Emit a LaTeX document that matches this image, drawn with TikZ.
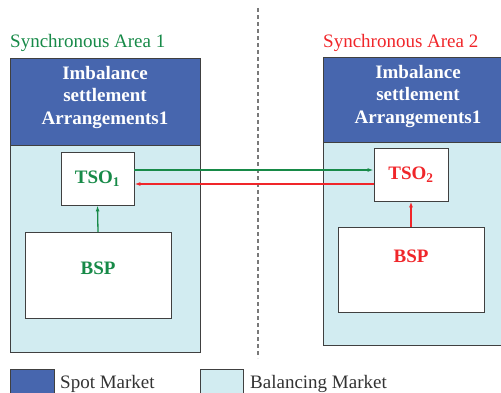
\documentclass[tikz,border=0pt]{standalone}
\usepackage{fontspec}
\setmainfont{Liberation Serif}
\usetikzlibrary{arrows.meta}
\definecolor{spotblue}{HTML}{4766AE}
\definecolor{balblue}{HTML}{D2ECF1}
\definecolor{sagreen}{HTML}{178A48}
\definecolor{sared}{HTML}{F0262A}
\definecolor{frame}{HTML}{404040}
\tikzset{
  areabox/.style={draw=frame, line width=0.9pt, fill=balblue},
  spotbox/.style={draw=frame, line width=0.9pt, fill=spotblue},
  whitebox/.style={draw=frame, line width=0.9pt, fill=white, inner sep=0pt},
  spottext/.style={text=white, font=\bfseries\fontsize{19}{22.5}\selectfont, align=center},
  boxtext/.style={font=\bfseries\fontsize{19}{22}\selectfont},
  title/.style={font=\fontsize{19}{22}\selectfont, anchor=base west, inner sep=0pt},
  legtext/.style={font=\fontsize{19}{22}\selectfont, anchor=base west, inner sep=0pt, text=black!80},
  link/.style={line width=1.3pt, -{Latex[length=6pt,width=4pt]}}
}
\begin{document}
\begin{tikzpicture}[x=1pt,y=-1pt]
\useasboundingbox (0,0) rectangle (501,392);
\clip (0,0) rectangle (501,392);
% divider
\draw[frame!70, line width=1.2pt, dash pattern=on 4pt off 3pt] (258,8) -- (258,358);
% titles
\node[title, text=sagreen] (t1) at (10,47) {Synchronous Area 1};
\node[title, text=sared] (t2) at (323,47) {Synchronous Area 2};
% area 1
\draw[areabox] (10,58) rectangle (200,352);
\draw[spotbox] (10,58) rectangle (200,145);
\node[spottext] (s1) at (105,97) {Imbalance\\settlement\\Arrangements1};
\node[whitebox, minimum width=73pt, minimum height=53pt, text=sagreen, boxtext] (tso1) at (97.5,178.5) {TSO\textsubscript{1}};
\draw[whitebox] (25,232) rectangle (171,318);
\node[boxtext, text=sagreen] (bsp1) at (98,268) {BSP};
\coordinate (bsp1top) at (98,232);
% area 2
\draw[areabox] (323,57) rectangle (503,345);
\draw[spotbox] (323,57) rectangle (503,142);
\node[spottext] (s2) at (418,96) {Imbalance\\settlement\\Arrangements1};
\node[whitebox, minimum width=74pt, minimum height=53pt, text=sared, boxtext] (tso2) at (411,174.5) {TSO\textsubscript{2}};
\draw[whitebox] (338,227) rectangle (484,312);
\node[boxtext, text=sared] (bsp2) at (411,256) {BSP};
\coordinate (bsp2top) at (411,227);
% connectors
\draw[link, sagreen] (bsp1top) -- (tso1.south);
\draw[link, sared] (bsp2top) -- (tso2.south);
\draw[link, sagreen] (tso1.east |- 0,170) -- (tso2.west |- 0,170);
\draw[link, sared] (tso2.west |- 0,184) -- (tso1.east |- 0,184);
% legend
\draw[spotbox] (10,369) rectangle (54,395);
\node[legtext] (l1) at (60,388) {Spot Market};
\draw[areabox] (200,369) rectangle (243,395);
\node[legtext] (l2) at (250,388) {Balancing Market};
\end{tikzpicture}
\end{document}
